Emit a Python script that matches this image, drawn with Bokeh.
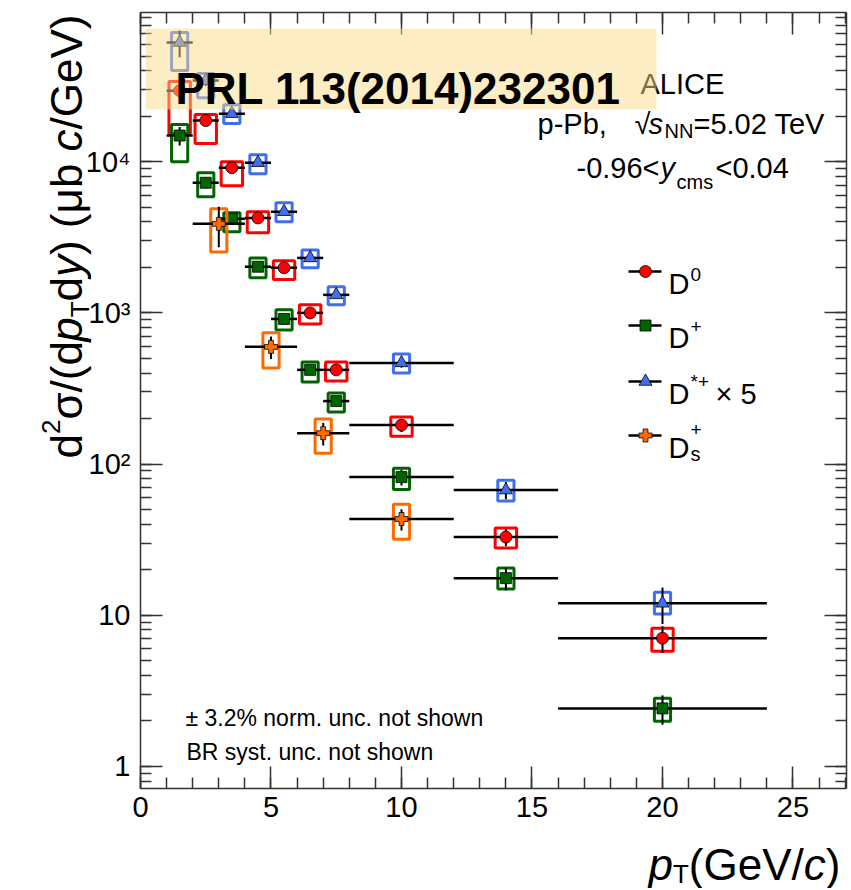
import math
from bokeh.plotting import figure
from bokeh.models import (Range1d, FixedTicker, LinearAxis, LogAxis, Label,
                          BoxAnnotation, ColumnDataSource)
from bokeh.embed import file_html
from bokeh.resources import INLINE

# ---------------- data ----------------
D_pt = [1.5, 2.5, 3.5, 4.5, 5.5, 6.5, 7.5, 10, 14, 20]
D_lo = [1, 2, 3, 4, 5, 6, 7, 8, 12, 16]
D_hi = [2, 3, 4, 5, 6, 7, 8, 12, 16, 24]

D0 = [29500, 18700, 9130, 4250, 1990, 1000, 420, 181, 32.9, 7.05]
D0_stat = [0.06, 0.04, 0.04, 0.04, 0.04, 0.05, 0.06, 0.10, 0.13, 0.20]
D0_sys_lo = [15300, 13200, 6930, 3390, 1660, 845, 355, 153, 27.8, 5.78]
D0_sys_hi = [33900, 20500, 10000, 4670, 2210, 1130, 473, 205, 37.7, 8.2]

Dp = [14900, 7260, 4200, 2020, 912, 420, 261, 82, 17.6, 2.42]
Dp_stat = [0.14, 0.08, 0.06, 0.05, 0.05, 0.06, 0.07, 0.12, 0.17, 0.22]
Dp_sys_lo = [10000, 5870, 3440, 1710, 771, 349, 221, 68, 14.9, 1.99]
Dp_sys_hi = [17600, 8460, 4590, 2310, 1050, 473, 295, 94, 20.5, 2.82]

Dst5 = [61400, 34400, 20800, 9850, 4670, 2310, 1316, 467, 67.3, 12.0]
Dst_stat = [0.20, 0.08, 0.05, 0.04, 0.04, 0.04, 0.05, 0.07, 0.13, 0.27]
Dst_sys_lo = [40100, 26500, 17900, 8330, 4010, 1990, 1130, 401, 56.9, 10.2]
Dst_sys_hi = [71500, 38300, 23800, 11100, 5350, 2610, 1490, 535, 78.3, 14.2]

Ds_pt = [3, 5, 7, 10]
Ds_lo = [2, 4, 6, 8]
Ds_hi = [4, 6, 8, 12]
Ds = [3880, 596, 160, 43.3]
Ds_stat = [0.30, 0.17, 0.17, 0.16]
Ds_sys_lo = [2530, 432, 118, 31.8]
Ds_sys_hi = [4890, 738, 199, 54.3]

x_major = [0, 5, 10, 15, 20, 25]
y_major = [1, 10, 100, 1000, 10000]
y_labels = ["1", "10", "10²", "10³", "10⁴"]

# ---------------- layout ----------------
FONT = "Liberation Sans"
W, H = 848, 888
FL, FR, FT, FB = 140, 846, 12, 788          # visible axes box, in page pixels
XMIN, XMAX = 0.0, 27.05
LYMIN, LYMAX = -0.146, 4.987


def X(px):
    return XMIN + (px - FL) / (FR - FL) * (XMAX - XMIN)


def Y(py):
    return 10 ** (LYMAX - (py - FT) / (FB - FT) * (LYMAX - LYMIN))


WID = {' ': 278, '(': 333, ')': 333, '/': 278, '-': 333, '.': 278, ',': 278,
       '<': 584, '=': 584, '+': 584, '*': 389, '×': 584, '±': 584, '%': 889,
       'A': 667, 'B': 667, 'C': 722, 'D': 722, 'E': 667, 'G': 778, 'I': 278,
       'L': 556, 'N': 722, 'P': 667, 'R': 722, 'T': 611, 'V': 667,
       'a': 556, 'b': 556, 'c': 500, 'd': 556, 'e': 556, 'h': 556, 'm': 833,
       'n': 556, 'o': 556, 'p': 556, 'r': 333, 's': 500, 't': 278, 'u': 556,
       'w': 722, 'y': 500, 'σ': 600, 'μ': 576, '√': 549}


def wid(text, size):
    return sum(WID.get(ch, 556) for ch in text) * size / 1000.0


# the plotting frame covers the whole canvas; the visible axes are drawn
# at fixed locations so that titles outside the axes box are not clipped
p = figure(width=W, height=H, x_range=Range1d(X(0), X(W)),
           y_range=Range1d(Y(H), Y(0)), y_axis_type="log",
           output_backend="svg", toolbar_location=None, title=None,
           min_border_left=0, min_border_right=0,
           min_border_top=0, min_border_bottom=0)
p.grid.visible = False
p.outline_line_color = None
p.background_fill_color = "white"
p.border_fill_color = "white"

YLO, YHI = Y(FB), Y(FT)
xt = FixedTicker(ticks=x_major, minor_ticks=list(range(0, 28)))
ymin_ticks = [m * 10 ** e for e in range(-1, 5) for m in range(1, 10)
              if YLO <= m * 10 ** e <= YHI]
yt = FixedTicker(ticks=y_major, minor_ticks=ymin_ticks)


def style_axis(ax, labels=True):
    ax.major_tick_in = 22
    ax.major_tick_out = 0
    ax.minor_tick_in = 11
    ax.minor_tick_out = 0
    ax.axis_line_color = "#333333"
    ax.axis_line_width = 1.5
    ax.major_tick_line_color = "#333333"
    ax.major_tick_line_width = 1.5
    ax.minor_tick_line_color = "#333333"
    ax.minor_tick_line_width = 1.5
    ax.major_label_text_font = FONT
    ax.major_label_text_color = "black"
    if not labels:
        ax.major_label_text_font_size = "8px"
        ax.major_label_standoff = 0


xb = p.xaxis[0]
xb.ticker = xt
xb.fixed_location = YLO
xb.bounds = (XMIN, XMAX)
style_axis(xb)
xb.major_label_text_font_size = "29px"
xb.major_label_standoff = 8

yl = p.yaxis[0]
yl.ticker = yt
yl.fixed_location = XMIN
yl.bounds = (YLO, YHI)
style_axis(yl)
yl.major_label_text_font_size = "29px"
yl.major_label_standoff = 10
yl.major_label_overrides = {v: s for v, s in zip(y_major, y_labels)}

top_ax = LinearAxis(ticker=xt, axis_label=None, fixed_location=YHI,
                    bounds=(XMIN, XMAX))
style_axis(top_ax, labels=False)
top_ax.major_label_overrides = {v: "" for v in x_major}
p.add_layout(top_ax, "above")
right_ax = LogAxis(ticker=yt, axis_label=None, fixed_location=XMAX,
                   bounds=(YLO, YHI))
style_axis(right_ax, labels=False)
right_ax.major_label_overrides = {v: "" for v in y_major}
p.add_layout(right_ax, "right")

RED, GREEN, BLUE, ORANGE = "#FF0000", "#006400", "#3F6FEF", "#FF6A00"


def series(pt, lo, hi, y, stat, slo, shi, color, marker, msize, box_w):
    src = ColumnDataSource(dict(
        pt=pt, lo=lo, hi=hi, y=y, slo=slo, shi=shi,
        bl=[v - box_w / 2 for v in pt], br=[v + box_w / 2 for v in pt],
        elo=[v * (1 - r) for v, r in zip(y, stat)],
        ehi=[v * (1 + r) for v, r in zip(y, stat)]))
    p.quad(left="bl", right="br", bottom="slo", top="shi", fill_color=None,
           line_color=color, line_width=3, source=src)
    p.segment(x0="lo", x1="hi", y0="y", y1="y", line_color="black",
              line_width=2.5, source=src)
    p.segment(x0="pt", x1="pt", y0="elo", y1="ehi", line_color="black",
              line_width=2, source=src)
    p.scatter(x="pt", y="y", marker=marker, size=msize, fill_color=color,
              line_color="black", line_width=0.8, source=src)


series(D_pt, D_lo, D_hi, D0, D0_stat, D0_sys_lo, D0_sys_hi, RED, "circle", 12, 0.82)
series(D_pt, D_lo, D_hi, Dp, Dp_stat, Dp_sys_lo, Dp_sys_hi, GREEN, "square", 11, 0.62)
series(D_pt, D_lo, D_hi, Dst5, Dst_stat, Dst_sys_lo, Dst_sys_hi, BLUE, "triangle", 13, 0.62)
series(Ds_pt, Ds_lo, Ds_hi, Ds, Ds_stat, Ds_sys_lo, Ds_sys_hi, ORANGE, "plus", 13, 0.62)


def put(text, px, py, size, style="normal", angle=0.0, color="black"):
    p.add_layout(Label(x=X(px), y=Y(py), text=text, text_font=FONT,
                       text_font_size=f"{size}px", text_font_style=style,
                       angle=angle, text_align="left",
                       text_baseline="alphabetic", text_color=color))


def put_runs(runs, px, py, angle=0.0):
    off = 0.0
    for text, size, style, shift in runs:
        if angle == 0.0:
            put(text, px + off, py + shift, size, style)
        else:
            put(text, px + shift, py - off, size, style, angle=angle)
        off += wid(text, size)
    return off


# legend
legend_rows = [(271, RED, "circle", 12), (325, GREEN, "square", 11),
               (381, BLUE, "triangle", 13), (435, ORANGE, "plus", 13)]
for ry, col, mk, ms in legend_rows:
    p.segment(x0=[X(628)], x1=[X(661)], y0=[Y(ry)], y1=[Y(ry)],
              line_color="black", line_width=2.5)
    p.scatter(x=[X(645)], y=[Y(ry)], marker=mk, size=ms, fill_color=col,
              line_color="black", line_width=0.8)

put("D", 668, 283, 29)
put("0", 690, 274, 19)
put("D", 668, 337, 29)
put("+", 690, 326, 19)
put("D", 668, 393, 29)
put("*+", 690, 381, 19)
put("× 5", 715, 393, 29)
put("D", 668, 447, 29)
put("s", 690, 453, 20)
put("+", 690, 429, 19)

# ALICE labels
put("ALICE", 640, 83, 29)
put("p-Pb,", 537, 123, 29)
put("√", 634, 123, 29)
put("s", 648, 123, 29, "italic")
put("NN", 664, 130, 20)
put("=5.02 TeV", 693, 123, 29)
put("-0.96<", 576, 167, 29)
put("y", 660, 167, 29, "italic")
put("cms", 676, 181, 20)
put("<0.04", 715, 167, 29)

put("± 3.2% norm. unc. not shown", 185, 717, 23)
put("BR syst. unc. not shown", 186, 751, 23)

# axis titles
xruns = [("p", 44, "italic", 0), ("T", 26, "normal", 9),
         ("(GeV/", 44, "normal", 0), ("c", 44, "italic", 0), (")", 44, "normal", 0)]
put_runs(xruns, 648, 864)

yruns = [("d", 44, "normal", 0), ("2", 26, "normal", -16),
         ("σ/(d", 44, "normal", 0), ("p", 44, "italic", 0),
         ("T", 26, "normal", 13), ("d", 44, "normal", 0), ("y", 44, "italic", 0),
         (") (μb ", 44, "normal", 0), ("c", 44, "italic", 0),
         ("/GeV)", 44, "normal", 0)]
ylen = sum(wid(t, s) for t, s, _, _ in yruns)
put_runs(yruns, 66, 14 + ylen, angle=math.pi / 2)

# banner
p.add_layout(BoxAnnotation(left=X(145), right=X(656), bottom=Y(109), top=Y(28),
                           fill_color="#F9DB8A", fill_alpha=0.5,
                           line_color=None, level="overlay"))
p.add_layout(Label(x=X(175), y=Y(88), text="PRL 113(2014)232301",
                   text_font=FONT, text_font_size="44px",
                   text_font_style="bold", text_color="black",
                   text_baseline="alphabetic", level="overlay"))

open("out.html", "w").write(file_html(p, INLINE))
